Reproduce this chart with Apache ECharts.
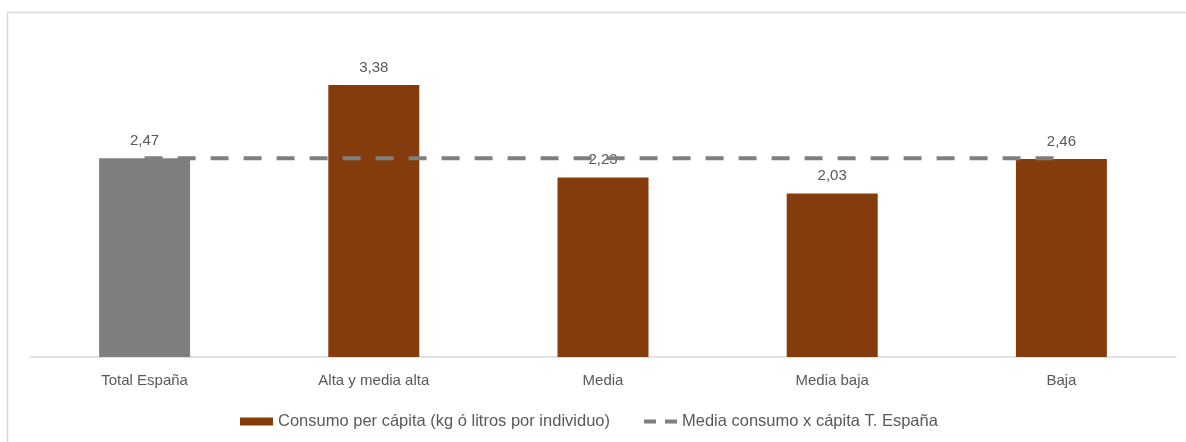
<!DOCTYPE html>
<html>
<head>
<meta charset="utf-8">
<script src="https://cdn.jsdelivr.net/npm/echarts@6/dist/echarts.min.js"></script>
<style>
html, body { margin: 0; padding: 0; background: #fff; }
#chart { width: 1186px; height: 442px; }
</style>
</head>
<body>
<div id="chart"></div>
<script>
// datos
var categorias = ['Total España', 'Alta y media alta', 'Media', 'Media baja', 'Baja'];
var consumo = [2.47, 3.38, 2.23, 2.03, 2.46];
var mediaEspana = [2.47, 2.47, 2.47, 2.47, 2.47];
var nombreBarras = 'Consumo per cápita (kg ó litros por individuo)';
var nombreLinea = 'Media consumo x cápita T. España';

var colorMarron = '#843c0c';
var colorGris = '#7f7f7f';
var colorTexto = '#595959';
var fuente = 'Liberation Sans, sans-serif';

var chart = echarts.init(document.getElementById('chart'));

var datosBarras = [];
for (var i = 0; i < consumo.length; i++) {
	datosBarras.push({
		value : consumo[i],
		itemStyle : { color : i == 0 ? colorGris : colorMarron }
	});
}

var option = {
	animation : false,
	backgroundColor : '#fff',
	textStyle : { fontFamily : fuente },
	graphic : [ {
		type : 'rect',
		silent : true,
		shape : { x : 7.5, y : 12.5, width : 1200, height : 460 },
		style : { fill : 'none', stroke : '#d9d9d9', lineWidth : 1.5 }
	} ],
	grid : { left : 30, right : 10, top : 35, bottom : 85 },
	legend : {
		bottom : 7,
		left : 235,
		itemGap : 32,
		itemWidth : 33,
		itemHeight : 8,
		textStyle : { color : colorTexto, fontSize : 16.5, fontFamily : fuente },
		data : [
			{ name : nombreBarras, icon : 'rect' },
			{
				name : nombreLinea,
				itemStyle : { opacity : 0 },
				lineStyle : { type : [12, 9], width : 4, color : colorGris }
			}
		]
	},
	xAxis : {
		type : 'category',
		data : categorias,
		axisLine : { lineStyle : { color : '#d9d9d9', width : 1.5 } },
		axisTick : { show : false },
		axisLabel : { color : colorTexto, fontSize : 15, margin : 16, fontFamily : fuente }
	},
	yAxis : {
		type : 'value',
		min : 0,
		max : 4,
		show : false,
		splitLine : { show : false }
	},
	series : [ {
		name : nombreBarras,
		type : 'bar',
		barWidth : 91,
		itemStyle : { color : colorMarron },
		data : datosBarras,
		label : {
			show : true,
			position : 'top',
			distance : 10,
			color : colorTexto,
			fontSize : 15,
			fontFamily : fuente,
			formatter : function(p) {
				return p.value.toFixed(2).replace('.', ',');
			}
		}
	}, {
		name : nombreLinea,
		type : 'line',
		symbol : 'none',
		z : 3,
		data : mediaEspana,
		itemStyle : { color : colorGris },
		lineStyle : { color : colorGris, width : 4, type : [18, 15] }
	} ]
};

chart.setOption(option);
</script>
</body>
</html>
